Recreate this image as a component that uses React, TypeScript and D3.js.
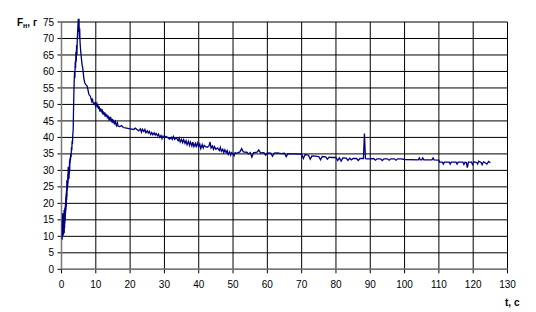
import React from "react";
import * as d3 from "d3";

// [t, F] readings, rise phase (0 – 7.8 s)
const risePhase: [number, number][] = [
  [0.2, 9], [0.25, 15], [0.3, 12], [0.35, 17], [0.4, 10], [0.45, 16], [0.5, 11], [0.55, 17], [0.6, 10.5], [0.65, 15],
  [0.7, 12], [0.75, 18], [0.8, 11], [0.85, 17], [0.9, 12.5], [0.95, 18.5], [1.0, 14], [1.05, 19], [1.1, 15], [1.15, 20],
  [1.2, 17], [1.25, 22], [1.3, 18], [1.35, 23], [1.4, 19], [1.45, 24], [1.5, 21], [1.55, 27], [1.6, 22], [1.65, 27],
  [1.7, 24], [1.75, 27], [1.8, 25], [1.85, 29], [1.9, 26], [1.95, 31], [2.0, 27], [2.05, 31], [2.1, 28], [2.15, 31],
  [2.2, 27.5], [2.25, 31.5], [2.3, 29], [2.35, 33], [2.4, 30], [2.45, 33.5], [2.5, 32], [2.55, 34], [2.6, 33], [2.7, 35],
  [2.8, 34], [2.9, 37], [3.0, 36], [3.1, 39], [3.2, 38], [3.3, 41], [3.4, 42], [3.5, 48], [3.6, 53], [3.7, 57],
  [3.8, 60], [3.9, 58], [4.0, 63], [4.1, 61], [4.2, 66], [4.3, 63], [4.4, 68], [4.5, 65], [4.6, 70], [4.7, 72],
  [4.8, 74], [4.9, 76], [5.0, 72], [5.1, 76], [5.2, 70], [5.3, 73], [5.4, 69], [5.6, 66], [5.8, 64], [6.0, 62],
  [6.2, 61], [6.5, 58], [6.8, 56.5], [7.1, 56], [7.5, 55.5], [7.8, 54],
];

// [t, F] readings, decay phase (8 – 60 s)
const decayPhase: [number, number][] = [
  [8.0, 53], [8.4, 52.5], [8.8, 51], [9.0, 51.8], [9.2, 50.5], [9.6, 50], [9.8, 50.8], [10.0, 49.5], [10.3, 50.3], [10.5, 49.0],
  [10.6, 49.8], [10.8, 48.6], [11.0, 49.4], [11.2, 47.8], [11.4, 48.8], [11.6, 48.0], [11.8, 48.6], [12.0, 47], [12.2, 47.9], [12.4, 46.8],
  [12.6, 47.6], [12.7, 46.3], [12.9, 47.2], [13.0, 46.3], [13.2, 47.0], [13.4, 45.8], [13.6, 46.6], [13.8, 45.6], [14.0, 46.2], [14.2, 45],
  [14.4, 45.8], [14.6, 45.0], [14.8, 45.6], [15.0, 44.3], [15.2, 45.0], [15.5, 44.2], [15.7, 44.8], [16.0, 43.6], [16.3, 44.4], [16.5, 43.4],
  [17.0, 43.3], [17.5, 43.6], [18, 43], [19, 42.8], [20, 42.6], [21, 42.4], [21.5, 42.8], [22, 42.4], [22.5, 42.0], [23, 42.6],
  [23.3, 41.6], [23.6, 42.5], [24, 41.8], [24.3, 42.4], [24.6, 41.4], [25, 42.0], [25.3, 41.3], [25.6, 41.8], [26, 40.9], [26.3, 41.5],
  [26.6, 40.8], [27, 41.4], [27.3, 40.7], [27.6, 41.2], [28, 40.5], [28.3, 41.0], [28.6, 40.0], [29, 40.6], [29.3, 39.6], [29.6, 40.4],
  [30, 39.8], [30.5, 40.3], [31, 39.9], [31.5, 39.5], [32, 40.0], [32.3, 39.4], [32.6, 40.3], [33, 39.4], [33.5, 39.9], [34, 39.0],
  [34.3, 39.8], [34.6, 38.6], [35, 39.4], [35.3, 38.4], [35.6, 39.3], [36, 38.2], [36.3, 39.0], [36.6, 37.8], [37, 38.8], [37.3, 37.6],
  [37.6, 38.6], [38, 37.4], [38.3, 38.6], [38.6, 37.2], [39, 38.2], [39.3, 37.0], [39.6, 38.3], [40, 37.2], [40.3, 38.0], [40.6, 36.6],
  [41, 37.8], [41.3, 36.8], [41.6, 37.6], [42, 37.2], [42.5, 37.0], [43, 37.4], [43.3, 38.6], [43.6, 36.8], [44, 37.4], [44.3, 36.4],
  [44.6, 37.2], [45, 36.4], [45.5, 36.8], [46, 36.0], [46.3, 37.0], [46.6, 35.8], [47, 36.4], [47.3, 35.4], [47.6, 36.2], [48, 35.4],
  [48.3, 36.0], [48.6, 34.8], [49, 35.6], [49.3, 34.6], [49.6, 35.4], [50, 35.0], [50.3, 34.4], [50.6, 35.4], [51, 35.2], [52, 35.6],
  [52.5, 36.6], [53, 35.6], [54, 35.5], [54.5, 35.0], [55, 35.4], [55.5, 34.0], [56, 35.4], [57, 35.5], [57.5, 36.2], [58, 35.3],
  [59, 35.4], [59.5, 34.6], [60, 35.3],
];

// [t, F] readings, plateau phase (60 – 125 s)
const plateauPhase: [number, number][] = [
  [61, 35.2], [61.5, 34.3], [62, 35.2], [63, 35.3], [64, 35.1], [65, 35.2], [65.5, 34.2], [66, 35.1], [67, 35], [68, 35],
  [69, 34.9], [70, 34.9], [70.5, 33.6], [71, 34.8], [72, 34.6], [72.5, 33.4], [73, 34.4], [74, 34.3], [75, 34.2], [75.5, 33.2],
  [76, 34.2], [77, 34.1], [77.5, 33.4], [78, 34], [79, 33.9], [80, 33.9], [80.5, 33], [81, 33.8], [81.5, 32.8], [82, 33.8],
  [83, 33.7], [83.5, 33.0], [84, 33.7], [84.5, 33.2], [85, 33.6], [86, 33.6], [86.5, 33], [87, 33.6], [87.5, 33.6], [88, 33.6],
  [88.3, 41.2], [88.6, 33.6], [89, 33.5], [90, 33.5], [91, 33.6], [91.5, 33.1], [92, 33.5], [93, 33.5], [93.5, 33], [94, 33.5],
  [95, 33.5], [95.5, 33.1], [96, 33.5], [97, 33.5], [97.5, 33.1], [98, 33.5], [99, 33.5], [100, 33.3], [104, 33.2], [104.3, 33.8],
  [104.6, 33.2], [105, 33.2], [105.3, 33.8], [105.6, 33.2], [108, 33.2], [108.3, 33.8], [108.6, 33.2], [110, 33.1], [110.2, 32.5], [111, 32.5],
  [111.3, 31.9], [111.6, 32.5], [113, 32.5], [113.3, 31.9], [113.6, 32.5], [115, 32.5], [115.3, 31.9], [115.6, 32.5], [117, 32.5], [117.3, 31.8],
  [117.6, 32.5], [118, 32.4], [118.3, 30.8], [118.6, 32.5], [119.5, 32.5], [119.8, 31.8], [120.2, 32.6], [121, 32.4], [121.3, 31.9], [121.6, 32.8],
  [122.3, 32.4], [122.6, 31.7], [123, 32.6], [123.5, 32.3], [124, 31.9], [124.5, 32.7], [125, 32.3],
];

const xTicks: number[] = [0, 10, 20, 30, 40, 50, 60, 70, 80, 90, 100, 110, 120, 130];
const yTicks: number[] = [0, 5, 10, 15, 20, 25, 30, 35, 40, 45, 50, 55, 60, 65, 70, 75];

export default function App() {
  const x = d3.scaleLinear().domain([0, 130]).range([61.5, 507.5]);
  const y = d3.scaleLinear().domain([0, 75]).range([269.3, 22]);
  const data = [...risePhase, ...decayPhase, ...plateauPhase];
  const line = d3
    .line<[number, number]>()
    .x((d) => x(d[0]))
    .y((d) => y(d[1]));
  const font = "'Liberation Sans', Arial, sans-serif";

  return (
    <svg
      width={536}
      height={312}
      style={{ position: "absolute", left: 0, top: 0, background: "#fff" }}
    >
      <rect x={0} y={0} width={536} height={312} fill="#fff" />
      {yTicks.map((v) => (
        <line key={"gy" + v} x1={x(0) - 4} x2={x(130)} y1={y(v)} y2={y(v)} stroke="#000" strokeWidth={1} />
      ))}
      {xTicks.map((v) => (
        <line key={"gx" + v} x1={x(v)} x2={x(v)} y1={y(75)} y2={y(0) + 4} stroke="#000" strokeWidth={1} />
      ))}
      <line x1={x(0)} x2={x(0)} y1={y(75)} y2={y(0)} stroke="#777" strokeWidth={1.5} />
      <line x1={x(0)} x2={x(130)} y1={y(0)} y2={y(0)} stroke="#777" strokeWidth={1.5} />
      <path d={line(data) || ""} fill="none" stroke="#000080" strokeWidth={1.3} strokeLinejoin="miter" />
      {yTicks.map((v) => (
        <text key={"ly" + v} x={54} y={y(v)} dy="0.36em" textAnchor="end" fontFamily={font} fontSize={10} fill="#000">
          {v}
        </text>
      ))}
      {xTicks.map((v) => (
        <text key={"lx" + v} x={x(v)} y={288} textAnchor="middle" fontFamily={font} fontSize={10} fill="#000">
          {v}
        </text>
      ))}
      <text x={17} y={26} fontFamily={font} fontSize={10} fontWeight="bold" fill="#000">
        F<tspan fontSize={7} dy={1.5}>н</tspan>
        <tspan dy={-1.5}>, г</tspan>
      </text>
      <text x={505} y={306} fontFamily={font} fontSize={10} fontWeight="bold" fill="#000">
        t, c
      </text>
    </svg>
  );
}
